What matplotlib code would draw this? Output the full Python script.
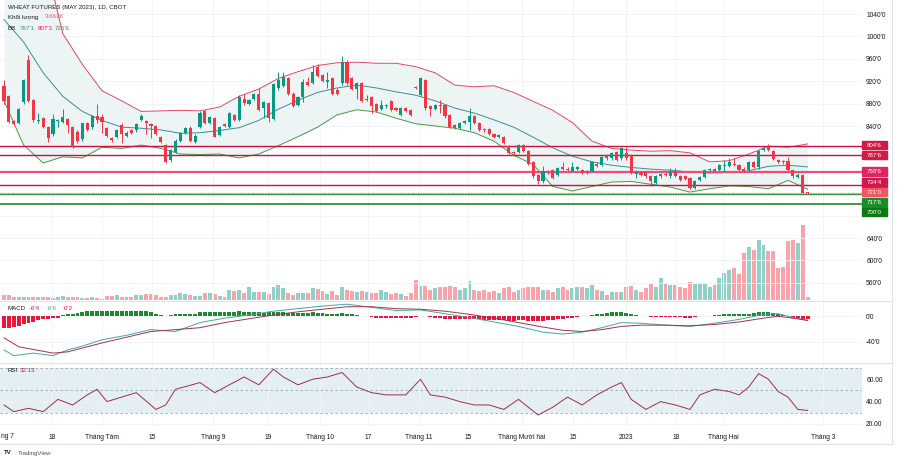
import numpy as np
import matplotlib.pyplot as plt
from matplotlib.lines import Line2D
from matplotlib.patches import Rectangle

plt.rcParams['font.family'] = ['Liberation Sans', 'DejaVu Sans']

# daily OHLC, cents per bushel
opens = [912, 894, 849, 846, 882, 958, 886, 849, 854, 838, 826, 849, 847, 853, 838, 829, 816, 845, 839, 858,
         856, 837, 818, 821, 842, 822, 832, 832, 851, 849, 843, 840, 821, 806, 779, 794, 813, 828, 836, 811,
         839, 866, 845, 854, 824, 843, 839, 860, 851, 888, 879, 888, 898, 872, 881, 852, 907, 911, 925, 898,
         878, 892, 919, 917, 946, 931, 919, 925, 905, 916, 955, 925, 906, 916, 886, 891, 879, 870, 875, 884,
         872, 860, 872, 869, 910, 895, 922, 875, 870, 877, 877, 860, 842, 836, 846, 848, 858, 845, 834, 834,
         825, 821, 821, 804, 793, 794, 806, 796, 776, 753, 741, 760, 761, 753, 767, 764, 759, 764, 762, 757,
         759, 773, 770, 788, 782, 793, 782, 792, 788, 754, 758, 757, 750, 739, 750, 755, 750, 759, 751, 750,
         747, 729, 743, 749, 762, 763, 762, 768, 769, 772, 770, 764, 761, 776, 766, 797, 802, 796, 779, 778,
         778, 762, 749, 753, 721.5]
highs = [923, 896, 851, 872, 924, 967, 888, 863, 856, 840, 862, 853, 870, 855, 840, 832, 846, 847, 860, 880,
         862, 839, 820, 834, 845, 831, 834, 846, 861, 851, 845, 842, 823, 808, 799, 816, 829, 839, 840, 825,
         866, 868, 858, 856, 840, 845, 865, 862, 895, 898, 888, 899, 907, 885, 883, 917, 937, 936, 927, 900,
         893, 924, 928, 949, 951, 933, 937, 927, 907, 965, 957, 927, 918, 918, 895, 893, 881, 886, 880, 886,
         874, 874, 874, 871, 912, 928, 924, 877, 880, 887, 879, 862, 844, 848, 851, 872, 860, 847, 836, 836,
         827, 826, 823, 806, 795, 808, 808, 798, 778, 755, 768, 762, 763, 767, 776, 766, 775, 769, 764, 762,
         777, 775, 786, 790, 794, 795, 803, 802, 790, 761, 760, 759, 752, 752, 756, 757, 765, 765, 753, 752,
         749, 744, 751, 764, 765, 765, 772, 779, 783, 782, 772, 766, 778, 778, 798, 802, 808, 798, 781, 780,
         785, 764, 756, 755, 722]
lows = [880, 845, 842, 844, 879, 882, 848, 846, 836, 812, 822, 838, 845, 828, 800, 810, 814, 831, 835, 846,
        827, 820, 812, 819, 810, 820, 826, 830, 849, 825, 819, 824, 810, 774, 776, 792, 811, 826, 812, 809,
        837, 843, 843, 820, 822, 838, 837, 849, 849, 878, 877, 886, 867, 855, 848, 850, 905, 909, 896, 874,
        876, 883, 911, 915, 927, 919, 907, 896, 896, 914, 914, 904, 889, 883, 884, 863, 865, 868, 873, 867,
        866, 858, 865, 858, 906, 893, 868, 857, 868, 864, 855, 837, 834, 834, 844, 832, 844, 831, 830, 824,
        819, 819, 807, 789, 789, 792, 793, 771, 748, 736, 739, 755, 745, 751, 762, 759, 757, 762, 754, 755,
        757, 767, 768, 780, 780, 777, 780, 780, 754, 747, 750, 748, 732, 737, 748, 751, 748, 749, 742, 743,
        727, 727, 741, 747, 760, 758, 760, 758, 767, 768, 759, 758, 759, 765, 764, 795, 795, 779, 774, 773,
        760, 748, 747, 719, 719]
closes = [885, 847, 844, 870, 922, 884, 851, 851, 838, 819, 853, 851, 856, 841, 802, 814, 845, 833, 858, 851,
          847, 823, 815, 832, 826, 828, 828, 844, 858, 845, 840, 826, 812, 776, 797, 814, 827, 837, 814, 823,
          864, 845, 856, 821, 838, 840, 863, 851, 891, 881, 886, 897, 869, 883, 854, 915, 922, 928, 898, 876,
          891, 919, 913, 937, 929, 921, 922, 898, 898, 955, 916, 906, 916, 885, 888, 876, 867, 878, 878, 869,
          868, 872, 867, 860, 908, 925, 872, 870, 878, 875, 857, 839, 836, 846, 849, 858, 846, 833, 832, 826,
          821, 824, 809, 791, 791, 806, 795, 773, 750, 741, 759, 757, 747, 765, 764, 761, 767, 767, 756, 760,
          775, 769, 785, 782, 792, 779, 800, 782, 756, 757, 752, 750, 741, 750, 754, 753, 758, 751, 744, 745,
          729, 742, 749, 762, 763, 760, 770, 771, 775, 770, 761, 760, 776, 767, 796, 800, 797, 781, 776, 775,
          762, 750, 752, 721, 721]
# volume, thousands of contracts
volume = [6, 6, 3.2, 3.2, 4, 4, 3.2, 3.2, 4, 3.2, 2.4, 4, 4.8, 3.2, 4, 3.2, 2.4, 2.4, 3.2, 2.4,
          1.6, 4.8, 4.8, 6, 4, 4, 3.2, 6, 5.6, 7.2, 7.2, 6, 4, 3.2, 6, 6, 8, 7.2, 6, 4.8,
          4.8, 8, 8.8, 7.2, 4.8, 4, 12, 11.2, 12, 8.8, 16, 10, 10, 10, 7.2, 15.2, 18, 14, 8, 6,
          8, 8, 8, 14, 12.8, 11.2, 7.2, 11.2, 6, 15.2, 12, 11.2, 10, 11.2, 10, 8.8, 8, 12, 10, 7.2,
          8, 7.2, 4.8, 8, 24, 16.8, 16.8, 12, 14, 16, 16, 16.8, 15.2, 12, 14, 23.2, 12, 11.2, 12, 10,
          11.2, 8.8, 14, 15.2, 10, 12, 14, 16, 15.2, 16, 12, 12, 10, 14, 16, 12, 14, 16, 16, 14,
          18, 12, 11.2, 6, 10, 10, 10, 15.2, 16.8, 12, 10, 14, 19.2, 16, 26, 20, 18, 18, 16, 14,
          22, 19.2, 20, 20, 16, 18, 26, 32.8, 36, 38, 31.2, 56, 64, 60, 72, 66, 59.2, 59.2, 38, 40,
          71.2, 72, 68.8, 90.4, 3.661]

# Bollinger bands (20, 2), sampled every 4 bars
bb_idx = list(range(0, 161, 4)) + [164]
bb_upper = [1180, 1170, 1150, 1005, 950, 903, 885, 866, 867, 868, 867, 874, 893, 906, 925, 937, 948, 953, 954, 952,
            952, 946, 935, 913, 910, 912, 900, 884, 868, 846, 813, 800, 797, 795, 796, 792, 776, 778, 790, 804,
            802, 808]
bb_basis = [1030, 990, 935, 893, 866, 850, 838, 836, 833, 827, 828, 832, 837, 850, 870, 886, 900, 908, 913, 908,
            901, 895, 885, 872, 863, 851, 838, 820, 801, 786, 776, 770, 766, 763, 761, 758, 756, 757, 760, 768,
            770, 767]
bb_lower = [885, 806, 774, 785, 783, 802, 800, 806, 800, 790, 789, 790, 783, 790, 805, 821, 838, 860, 869, 865,
            854, 844, 840, 836, 828, 813, 788, 771, 732, 724, 732, 740, 741, 736, 731, 722, 728, 733, 732, 728,
            743, 727]

# horizontal levels drawn on the chart
res_levels = [804.75, 787.75, 734.5]
pivot_level = 758.75
sup_levels = [717.75, 700]
last_price = 721

# MACD (12, 26, 9)
macd_idx = [0, 2, 6, 10, 13, 16, 20, 25, 30, 35, 40, 45, 50, 55, 60, 65, 70, 75, 80, 85,
            90, 95, 100, 105, 110, 114, 118, 122, 126, 130, 135, 140, 145, 150, 155, 158, 161, 164]
macd_line = [-53, -62, -58, -62, -53, -47, -37, -30, -21, -24, -10, -3, 2, 8, 12, 16, 19, 14, 9, 10,
             4, -2, -9, -16, -25, -28, -25, -18, -10, -11, -14, -16, -11, -5, 3, 4, -2, -6.4]
sig_idx = [0, 3, 10, 13, 20, 30, 40, 45, 50, 55, 60, 65, 70, 75, 80, 85, 90, 95, 100, 105,
           110, 114, 118, 122, 126, 130, 135, 140, 145, 150, 155, 158, 161, 164]
sig_line = [-34, -48, -58, -56, -42, -24, -18, -10, -4, 2, 7, 11, 15, 15, 12, 11, 8, 3, -3, -10,
            -17, -22, -24, -21, -16, -14, -14, -15, -13, -9, -3, 0, -3, -6.6]
macd_hist = [-19, -19, -17, -16, -12, -10, -9, -6, -5, -4, -3, -2,
             2, 3, 4, 5, 7, 8, 9, 9, 9, 9, 8, 8, 8, 8, 8, 9, 9, 8, 6, 4, 2, 1, 2, 3, 4, 4, 3, 4, 6,
             7, 7, 6, 6, 6, 7, 7, 8, 7, 7, 6, 6, 5, 6, 7, 7, 6, 5, 5, 5,
             5, 5, 6, 5, 5, 4, 3, 3, 5, 4, 3, 2, 1, 0, -1, -2, -3, -3, -3, -3,
             -3, -3, -3, -1, 1, 0, -1, -2, -3, -4, -4, -5, -5, -5, -4, -5, -5, -6, -6, -6,
             -6, -6, -7, -7, -6, -6, -7, -8, -8, -7, -6, -6, -5, -4, -3, -2, -1, 0, 1, 2,
             3, 4, 5, 6, 6, 6, 5, 3, 2, 1, 0, -1, -1, -1, -1, -1, -1, -1, -2, -2,
             -1, 0, 1, 1, 2, 2, 3, 3, 3, 4, 4, 4, 5, 6, 6, 6, 5, 4, 2, 0, -2, -3, -4, -4]

# RSI (14)
rsi_idx = [0, 2, 5, 8, 11, 14, 17, 19, 21, 24, 27, 31, 33, 35, 40, 43, 46, 49, 52, 55,
           57, 60, 63, 66, 69, 72, 75, 78, 82, 85, 87, 90, 93, 96, 99, 102, 105, 107, 109, 112,
           115, 118, 121, 124, 126, 128, 131, 134, 137, 140, 142, 145, 148, 150, 152, 154, 156, 158, 160, 162, 164]
rsi_val = [37, 31, 34, 31, 42, 37, 46, 51, 40, 44, 48, 33, 37, 51, 57, 48, 55, 62, 55, 69,
           62, 55, 60, 62, 66, 53, 48, 46, 46, 60, 46, 44, 40, 37, 37, 33, 42, 35, 28, 35,
           44, 37, 46, 53, 57, 42, 33, 40, 37, 33, 46, 51, 49, 46, 53, 65, 60, 49, 44, 33, 32.13]

tick_idx = [9.8, 20, 30.2, 42.7, 53.9, 64.5, 74.3, 84.7, 94.7, 105.7, 116.1, 126.9, 137.1, 146.7, 167.1]
tick_lbl = ['18', 'Tháng Tám', '15', 'Tháng 9', '19', 'Tháng 10', '17', 'Tháng 11', '15',
            'Tháng Mười hai', '15', '2023', '18', 'Tháng Hai', 'Tháng 3']
price_ticks = list(range(560, 1041, 40))
price_lbl_ticks = [560, 600, 640, 840, 880, 920, 960, 1000, 1040]

W, H = 910, 463
UP, DOWN = '#089981', '#f23645'
GRID = '#f0f3fa'
TXT = '#131722'
FS = 4.8
HFS = 4.4


def rect(x0, y0, x1, y1):
    return [x0 / W, 1 - y1 / H, (x1 - x0) / W, (y1 - y0) / H]


fig = plt.figure(figsize=(W / 100, H / 100), dpi=100, facecolor='white')
ax = fig.add_axes(rect(0, 0, 862, 300))
axv = ax.twinx()
ax_m = fig.add_axes(rect(0, 301, 862, 362), sharex=ax)
ax_r = fig.add_axes(rect(0, 363, 862, 428), sharex=ax)

idx = np.arange(len(closes))
o, h, l, c = map(np.array, (opens, highs, lows, closes))
up = c >= o
col = np.where(up, UP, DOWN)

# volume first, underneath the candles
axv.bar(idx, volume, width=0.8, color=[UP if u else DOWN for u in up], alpha=0.45, linewidth=0)
axv.set_ylim(0, 360)
axv.axis('off')
ax.set_zorder(axv.get_zorder() + 1)
ax.patch.set_visible(False)

# Bollinger bands
ax.fill_between(bb_idx, bb_lower, bb_upper, color='#e6f0f0', alpha=0.7, lw=0, zorder=1)
ax.plot(bb_idx, bb_upper, color='#e0486a', lw=0.7, zorder=2)
ax.plot(bb_idx, bb_basis, color='#3a8f96', lw=0.7, zorder=2)
ax.plot(bb_idx, bb_lower, color='#4a9a4a', lw=0.7, zorder=2)

# levels
for lv in res_levels:
    ax.axhline(lv, color='#c8143c', lw=1.0, zorder=3)
ax.axhline(pivot_level, color='#ee4d78', lw=1.6, zorder=3)
ax.axhline(sup_levels[0], color='#3f8f3f', lw=1.0, zorder=3)
ax.axhline(last_price, color='#7fae6f', lw=0.9, ls=(0, (1, 1)), zorder=3)
ax.axhline(sup_levels[1], color='#1a7a1a', lw=1.1, zorder=3)

# candles
ax.vlines(idx, l, h, colors=col, lw=0.7, zorder=4)
body = np.maximum(np.abs(c - o), 0.9)
ax.bar(idx, body, bottom=np.minimum(o, c), width=0.62, color=col, linewidth=0, zorder=5)

ax.set_xlim(-0.816, 175.1)
ax.set_ylim(529.3, 1065)
ax.set_yticks(price_ticks)
ax.set_yticklabels([f"{t}'0" if t in price_lbl_ticks else '' for t in price_ticks])
ax.yaxis.tick_right()
ax.tick_params(axis='y', length=0, pad=3, labelsize=FS, labelcolor=TXT)
ax.grid(True, color=GRID, lw=0.6, zorder=0)

# value tags on the price scale
tag_text = ["804'6", "787'6", "758'6", "734'4", "721'0", "717'6", "700'0"]
tag_y = [805.5, 787.75, 758.75, 739.0, 722.0, 703.4, 686.4]
tag_col = ['#d01c44', '#d01c44', '#e0245e', '#d0174a', '#f25563', '#1f8c2a', '#0b7a12']
ytr = ax.get_yaxis_transform()
for t, y, cl in zip(tag_text, tag_y, tag_col):
    ax.add_patch(Rectangle((1.0, y - 7.3), 25 / 862, 14.6, transform=ytr, color=cl,
                           clip_on=False, zorder=6))
    ax.text(1.0 + 12.5 / 862, y, t, transform=ytr, ha='center', va='center',
            color='white', fontsize=HFS, clip_on=False, zorder=7)

# MACD pane
ax_m.bar(idx, macd_hist, width=0.8, color=['#1d8a2e' if v >= 0 else '#e8173c' for v in macd_hist],
         linewidth=0, zorder=2)
ax_m.plot(macd_idx, macd_line, color='#44a6a6', lw=0.7, zorder=3)
ax_m.plot(sig_idx, sig_line, color='#a0344f', lw=0.7, zorder=3)
ax_m.set_ylim(-72, 24)
ax_m.set_yticks([0, -40])
ax_m.set_yticklabels(["0'0", "-40'0"])
ax_m.yaxis.tick_right()
ax_m.tick_params(axis='y', length=0, pad=3, labelsize=FS, labelcolor=TXT)
ax_m.grid(True, color=GRID, lw=0.6, zorder=0)

# RSI pane
ax_r.axhspan(30, 70, color='#e3eff3', lw=0, zorder=1)
for lv in (70, 50, 30):
    ax_r.axhline(lv, color='#a3a6af', lw=0.6, ls=(0, (3, 3)), zorder=2)
ax_r.plot(rsi_idx, rsi_val, color='#9c2d52', lw=0.7, zorder=3)
ax_r.set_ylim(16.4, 74.5)
ax_r.set_yticks([60, 40, 20])
ax_r.set_yticklabels(['60.00', '40.00', '20.00'])
ax_r.yaxis.tick_right()
ax_r.tick_params(axis='y', length=0, pad=3, labelsize=FS, labelcolor=TXT)
ax_r.grid(True, color=GRID, lw=0.6, zorder=0)

ax_r.set_xticks(tick_idx)
ax_r.set_xticklabels(tick_lbl)
ax_r.tick_params(axis='x', length=0, pad=4, labelsize=FS, labelcolor=TXT)
for a in (ax, ax_m):
    a.tick_params(axis='x', labelbottom=False, length=0)
for a in (ax, axv, ax_m, ax_r):
    for s in a.spines.values():
        s.set_visible(False)

# pane separators and borders
for y in (300.5, 362.5, 443.5):
    fig.add_artist(Line2D([0, 892 / W], [1 - y / H] * 2, color='#e0e3eb', lw=0.8))
fig.add_artist(Line2D([892 / W] * 2, [1 - 443.5 / H, 1], color='#e0e3eb', lw=0.8))


def ftext(x, y, s, color=TXT, size=HFS, **kw):
    fig.text(x / W, 1 - y / H, s, color=color, fontsize=size, va='center', ha='left', **kw)


ftext(1, 436, 'ng 7', size=FS)
ftext(8, 7, 'WHEAT FUTURES (MAY 2023), 1D, CBOT')
ftext(8, 17, 'Khối lượng')
ftext(45, 17, '3.661K', color='#f25563')
ftext(8, 28, 'BB')
ftext(20, 28, "767'1", color='#3a8f96')
ftext(38, 28, "807'3", color='#e0245e')
ftext(55, 28, "726'6", color='#3f8f3f')
ftext(8, 308, 'MACD')
ftext(30, 308, "-6'4", color='#e8173c')
ftext(47, 308, "-6'6", color='#44a6a6')
ftext(63, 308, "-0'2", color='#e8173c')
ftext(8, 371, 'RSI')
ftext(20, 371, '32.13', color='#9c2d52')
ftext(4, 453, 'TV', fontweight='bold')
ftext(18, 453, 'TradingView', color='#50535e')

fig.savefig('out.png', dpi=100, facecolor='white')
